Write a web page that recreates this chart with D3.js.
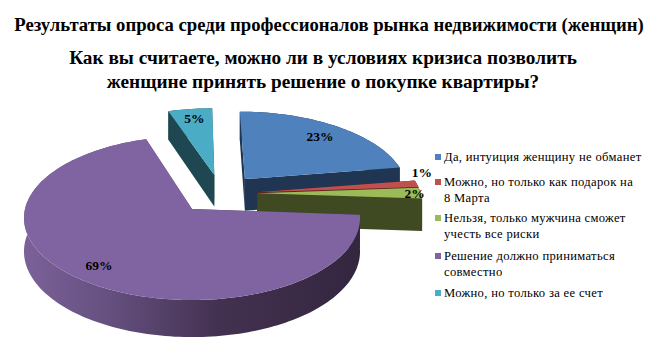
<!DOCTYPE html>
<html>
<head>
<meta charset="utf-8">
<script src="https://d3js.org/d3.v7.min.js"></script>
<style>
html, body { margin: 0; padding: 0; background: #fff; }
svg { display: block; font-family: "Liberation Serif", serif; }
</style>
</head>
<body>
<svg id="chart" width="658" height="359"></svg>
<script>
const categories = [
    ['Да, интуиция женщину не обманет'],
    ['Можно, но только как подарок на', '8 Марта'],
    ['Нельзя, только мужчина сможет', 'учесть все риски'],
    ['Решение должно приниматься', 'совместно'],
    ['Можно, но только за ее счет']
]
// unrounded shares, labels show them rounded
const values = [22.5, 1.4, 2.2, 69, 4.9]
const topColors = ['#4f81bd', '#c0504d', '#9bbb59', '#8064a2', '#4bacc6']
const sideColors = ['#1f3552', '#5c2220', '#3f4a22', 'url(#purple-side)', '#1f4752']
// how far each slice is pulled out of the pie, in pie radii
const explodeU = [0.33, 0.40, 0.40, 0, 0.14]
const explodeV = [-0.385, -0.21, -0.20, 0, -0.44]
const labelRadius = [0.8, 1.0, 0.95, 0.82, 0.85]
const labelShiftX = [0, 5, 2, -2, 1]
const labelShiftY = [0, -11, 0, 0, 0]
const titleLines = ['Результаты опроса среди профессионалов рынка недвижимости (женщин)']
const subtitleLines = ['Как вы считаете, можно ли в условиях кризиса позволить', 'женщине принять решение о покупке квартиры?']

const CENTER = { x: 192, y: 209 }
const RX = 167, RY = 81, PERSPECTIVE = 0.11, DEPTH = 33

const svg = d3.select('#chart')

const gradient = svg.append('defs').append('linearGradient')
    .attr('id', 'purple-side')
    .attr('gradientUnits', 'userSpaceOnUse')
    .attr('x1', 24).attr('y1', 0)
    .attr('x2', 360).attr('y2', 0)
gradient.selectAll('stop')
    .data([
        { offset: '0%', color: '#7b6199' },
        { offset: '25%', color: '#655080' },
        { offset: '58%', color: '#433150' },
        { offset: '100%', color: '#33263f' }
    ])
    .enter().append('stop')
    .attr('offset', d => d.offset)
    .attr('stop-color', d => d.color)

// disk coordinates to screen, the near side of the pie is drawn bigger
function project(u, v, z) {
    const s = 1 / (1 - PERSPECTIVE * v)
    return [CENTER.x + RX * u * s, CENTER.y + (RY * v + z) * s]
}

const pie = d3.pie().sort(null)(values)
const lineGen = d3.line()

function diskPoint(i, angle, r, z) {
    return project(explodeU[i] + r * Math.sin(angle), explodeV[i] - r * Math.cos(angle), z)
}

function arcAngles(d) {
    const n = Math.max(2, Math.ceil((d.endAngle - d.startAngle) * 40))
    return d3.range(n + 1).map(k => d.startAngle + (d.endAngle - d.startAngle) * k / n)
}

const $slices = svg.append('g').attr('class', 'slices')

// back slices first, purple sits in front of everything
const drawOrder = [4, 0, 1, 2, 3]
drawOrder.forEach(i => {
    const d = pie[i]
    const angles = arcAngles(d)
    const g = $slices.append('g')

    const wall = angles.map(a => diskPoint(i, a, 1, 0))
        .concat(angles.slice().reverse().map(a => diskPoint(i, a, 1, DEPTH)))
    g.append('path')
        .attr('d', lineGen(wall) + 'Z')
        .attr('fill', sideColors[i])

    ;[d.startAngle, d.endAngle].forEach(a => {
        const face = [diskPoint(i, a, 0, 0), diskPoint(i, a, 1, 0), diskPoint(i, a, 1, DEPTH), diskPoint(i, a, 0, DEPTH)]
        g.append('path')
            .attr('d', lineGen(face) + 'Z')
            .attr('fill', sideColors[i])
    })

    const top = [diskPoint(i, 0, 0, 0)].concat(angles.map(a => diskPoint(i, a, 1, 0)))
    g.append('path')
        .attr('d', lineGen(top) + 'Z')
        .attr('fill', topColors[i])
})

// percent labels
svg.append('g').selectAll('text')
    .data(pie)
    .enter().append('text')
    .attr('x', (d, i) => diskPoint(i, (d.startAngle + d.endAngle) / 2, labelRadius[i], 0)[0] + labelShiftX[i])
    .attr('y', (d, i) => diskPoint(i, (d.startAngle + d.endAngle) / 2, labelRadius[i], 0)[1] + labelShiftY[i])
    .attr('dy', '0.35em')
    .attr('text-anchor', 'middle')
    .attr('font-size', 13.5)
    .attr('font-weight', 'bold')
    .attr('fill', '#000')
    .text(d => Math.round(d.value) + '%')

// titles
svg.append('g').selectAll('text')
    .data(titleLines)
    .enter().append('text')
    .attr('x', 329)
    .attr('y', 31)
    .attr('text-anchor', 'middle')
    .attr('font-size', 18.7)
    .attr('font-weight', 'bold')
    .text(d => d)

svg.append('g').selectAll('text')
    .data(subtitleLines)
    .enter().append('text')
    .attr('x', 323)
    .attr('y', (d, i) => 64 + i * 24)
    .attr('text-anchor', 'middle')
    .attr('font-size', 19.3)
    .attr('font-weight', 'bold')
    .text(d => d)

// legend
const legendTop = [154, 179, 215, 253, 290]
const legend = svg.append('g').selectAll('g')
    .data(categories)
    .enter().append('g')
    .attr('transform', (d, i) => `translate(435, ${legendTop[i]})`)
legend.append('rect')
    .attr('width', 6)
    .attr('height', 6)
    .attr('fill', (d, i) => topColors[i])
legend.selectAll('text')
    .data(d => d)
    .enter().append('text')
    .attr('x', 9)
    .attr('y', (d, i) => 7 + i * 16)
    .attr('font-size', 12.6)
    .attr('letter-spacing', 0.32)
    .attr('fill', '#000')
    .text(d => d)
</script>
</body>
</html>
